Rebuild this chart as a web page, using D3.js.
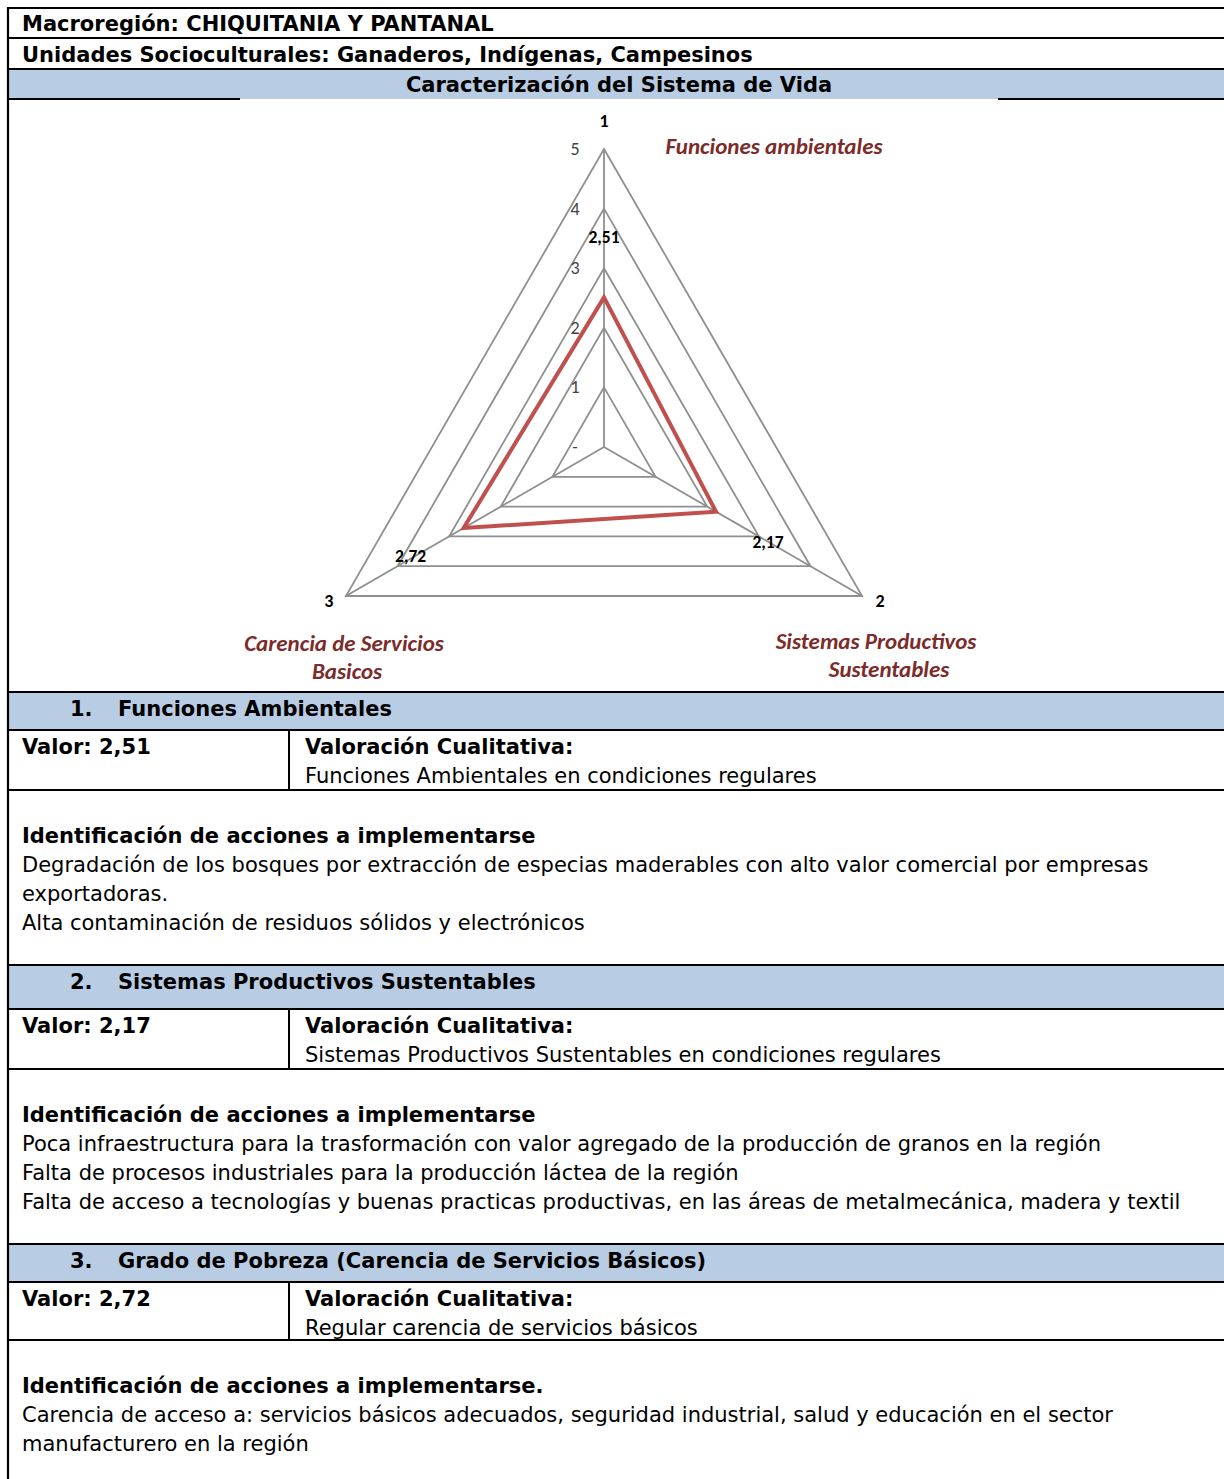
<!DOCTYPE html>
<html>
<head>
<meta charset="utf-8">
<script src="https://cdn.jsdelivr.net/npm/d3@7"></script>
<style>
body { margin: 0; background: #fff; }
text { font-family: Tahoma, "DejaVu Sans", sans-serif; }
.chartfont { font-family: Carlito, Lato, "Open Sans", sans-serif; }
</style>
</head>
<body>
<svg id="page" width="1224" height="1479"></svg>
<script>
// radar data
const axes = ['1', '2', '3'];
const axisNames = [['Funciones ambientales'], ['Sistemas Productivos', 'Sustentables'], ['Carencia de Servicios', 'Basicos']];
const values = [2.51, 2.17, 2.72];
const valueLabels = ['2,51', '2,17', '2,72'];
const ticks = [0, 1, 2, 3, 4, 5];
const tickLabels = ['-', '1', '2', '3', '4', '5'];

// table texts
const header1 = 'Macroregión: CHIQUITANIA Y PANTANAL';
const header2 = 'Unidades Socioculturales: Ganaderos, Indígenas, Campesinos';
const header3 = 'Caracterización del Sistema de Vida';
const sectionNums = ['1.', '2.', '3.'];
const sectionTitles = ['Funciones Ambientales', 'Sistemas Productivos Sustentables', 'Grado de Pobreza (Carencia de Servicios Básicos)'];
const valorTexts = ['Valor: 2,51', 'Valor: 2,17', 'Valor: 2,72'];
const cualitativa = ['Funciones Ambientales en condiciones regulares', 'Sistemas Productivos Sustentables en condiciones regulares', 'Regular carencia de servicios básicos'];
const accionesTitles = ['Identificación de acciones a implementarse', 'Identificación de acciones a implementarse', 'Identificación de acciones a implementarse.'];
const acciones = [
  ['Degradación de los bosques por extracción de especias maderables con alto valor comercial por empresas', 'exportadoras.', 'Alta contaminación de residuos sólidos y electrónicos'],
  ['Poca infraestructura para la trasformación con valor agregado de la producción de granos en la región', 'Falta de procesos industriales para la producción láctea de la región', 'Falta de acceso a tecnologías y buenas practicas productivas, en las áreas de metalmecánica, madera y textil'],
  ['Carencia de acceso a: servicios básicos adecuados, seguridad industrial, salud y educación en el sector', 'manufacturero en la región']
];

const svg = d3.select('#page');
const W = 1224, H = 1479;
const L = 8;
const blue = '#b8cce4';
const fs = 21;

function hline(y, x1, x2) {
  svg.append('line').attr('x1', x1 == null ? L : x1).attr('x2', x2 == null ? W : x2)
    .attr('y1', y).attr('y2', y).attr('stroke', '#000').attr('stroke-width', 2.2);
}
function txt(x, y, s, bold, anchor) {
  return svg.append('text').attr('x', x).attr('y', y).text(s)
    .attr('font-size', fs).attr('font-weight', bold ? 'bold' : 'normal')
    .attr('text-anchor', anchor || 'start').attr('fill', '#000');
}

// header rows
svg.append('rect').attr('x', L).attr('y', 69).attr('width', W - L).attr('height', 30).attr('fill', blue);
txt(22, 31, header1, true);
txt(22, 62, header2, true);
txt(619, 92, header3, true, 'middle');
hline(8); hline(38); hline(69);
hline(99, L, 240); hline(99, 998, W);

// sections
const sec = [
  { top: 692, row: 730, rowEnd: 790 },
  { top: 965, row: 1009, rowEnd: 1069 },
  { top: 1244, row: 1282, rowEnd: 1340 }
];
sec.forEach((s, i) => {
  svg.append('rect').attr('x', L).attr('y', s.top).attr('width', W - L).attr('height', s.row - s.top).attr('fill', blue);
  hline(s.top); hline(s.row); hline(s.rowEnd);
  svg.append('line').attr('x1', 289).attr('x2', 289).attr('y1', s.row).attr('y2', s.rowEnd)
    .attr('stroke', '#000').attr('stroke-width', 2);
  txt(70, s.top + 24, sectionNums[i], true);
  txt(118, s.top + 24, sectionTitles[i], true);
  txt(22, s.row + 24, valorTexts[i], true);
  txt(305, s.row + 24, 'Valoración Cualitativa:', true);
  txt(305, s.row + 53, cualitativa[i], false);
  txt(22, s.rowEnd + 53, accionesTitles[i], true);
  acciones[i].forEach((line, j) => txt(22, s.rowEnd + 82 + j * 29, line, false));
});

// left border
svg.append('line').attr('x1', L).attr('x2', L).attr('y1', 7).attr('y2', H)
  .attr('stroke', '#000').attr('stroke-width', 2.2);

// radar chart
const cx = 604, cy = 447;
const r = d3.scaleLinear().domain([0, 5]).range([0, 298]);
const angle = d3.scalePoint().domain(axes).range([0, 240]);
const pt = (a, v) => {
  const t = angle(a) * Math.PI / 180;
  return [cx + r(v) * Math.sin(t), cy - r(v) * Math.cos(t)];
};
const g = svg.append('g');

// grid rings
ticks.filter(t => t > 0).forEach(t => {
  g.append('path')
    .attr('d', d3.line()(axes.map(a => pt(a, t))) + 'Z')
    .attr('fill', 'none').attr('stroke', '#8f8f8f').attr('stroke-width', 1.8);
});
axes.forEach(a => {
  const p = pt(a, 5);
  g.append('line').attr('x1', cx).attr('y1', cy).attr('x2', p[0]).attr('y2', p[1])
    .attr('stroke', '#8f8f8f').attr('stroke-width', 1.8);
});

// tick labels
ticks.forEach((t, i) => {
  g.append('text').attr('class', 'chartfont')
    .attr('x', cx - 29).attr('y', cy - r(t) + 6)
    .attr('text-anchor', 'middle').attr('font-size', 18).attr('fill', '#444')
    .text(tickLabels[i]);
});

// series
g.append('path')
  .attr('d', d3.line()(axes.map((a, i) => pt(a, values[i]))) + 'Z')
  .attr('fill', 'none').attr('stroke', '#c0504d').attr('stroke-width', 4)
  .attr('stroke-linejoin', 'miter');

// value labels
const labelOffset = [[0, -54], [52, 36], [-53, 34]];
axes.forEach((a, i) => {
  const p = pt(a, values[i]);
  g.append('text').attr('class', 'chartfont')
    .attr('x', p[0] + labelOffset[i][0]).attr('y', p[1] + labelOffset[i][1])
    .attr('text-anchor', 'middle').attr('font-size', 17.5).attr('font-weight', 'bold').attr('fill', '#000')
    .text(valueLabels[i]);
});

// axis numbers
const catOffset = [[0, -22], [18, 11], [-17, 11]];
axes.forEach((a, i) => {
  const p = pt(a, 5);
  g.append('text').attr('class', 'chartfont')
    .attr('x', p[0] + catOffset[i][0]).attr('y', p[1] + catOffset[i][1])
    .attr('text-anchor', 'middle').attr('font-size', 18).attr('font-weight', 'bold').attr('fill', '#000')
    .text(a);
});

// axis names
const namePos = [[774, 154], [876, 649], [344, 651]];
axisNames.forEach((lines, i) => {
  lines.forEach((s, j) => {
    g.append('text').attr('class', 'chartfont')
      .attr('x', namePos[i][0] + (j ? 13 * (i === 1) + 3 * (i === 2) : 0)).attr('y', namePos[i][1] + j * 28)
      .attr('text-anchor', 'middle').attr('font-size', 23).attr('font-weight', 'bold')
      .attr('font-style', 'italic').attr('fill', '#7b2c2a')
      .text(s);
  });
});
</script>
</body>
</html>
